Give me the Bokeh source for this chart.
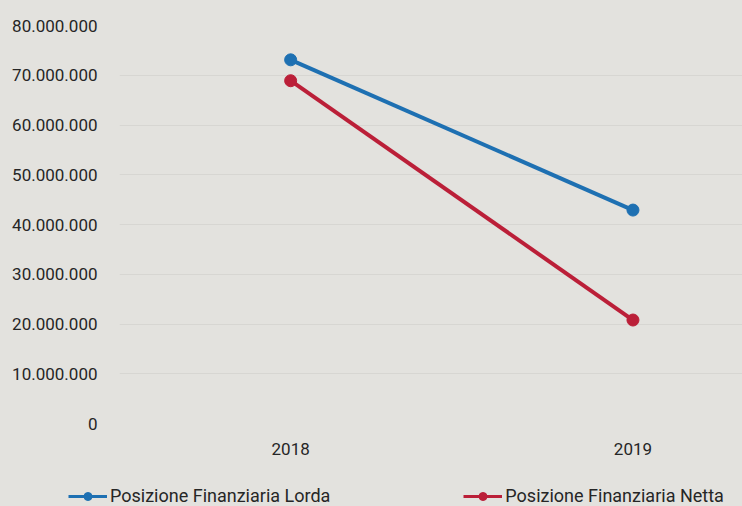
from bokeh.plotting import figure
from bokeh.models import (ColumnDataSource, FixedTicker, Legend, LegendItem,
                          CustomJSTickFormatter, Range1d)
from bokeh.embed import file_html
from bokeh.resources import INLINE

# Data
years = ["2018", "2019"]
lorda = [73_100_000, 42_900_000]
netta = [68_900_000, 20_800_000]
series_names = ["Posizione Finanziaria Lorda", "Posizione Finanziaria Netta"]
y_ticks = [0, 10_000_000, 20_000_000, 30_000_000, 40_000_000,
           50_000_000, 60_000_000, 70_000_000, 80_000_000]

BG = "#e3e2de"
BLUE = "#1e70b2"
RED = "#bb1f38"
FONT = "Roboto"
TEXT = "#262626"

xs = list(range(len(years)))
src_l = ColumnDataSource(dict(x=xs, y=lorda))
src_n = ColumnDataSource(dict(x=xs, y=netta))

p = figure(width=742, height=466, output_backend="svg", toolbar_location=None,
           x_range=Range1d(-0.5, 1.32), y_range=Range1d(0, 80_000_000),
           min_border_left=119, min_border_right=0, min_border_top=25,
           min_border_bottom=43)
p.background_fill_color = BG
p.border_fill_color = BG
p.outline_line_color = None

# Axes
p.xaxis.ticker = FixedTicker(ticks=xs)
p.xaxis.major_label_overrides = {i: y for i, y in enumerate(years)}
p.yaxis.ticker = FixedTicker(ticks=y_ticks)
p.yaxis.formatter = CustomJSTickFormatter(code="""
    return Math.round(tick).toString().replace(/\\B(?=(\\d{3})+(?!\\d))/g, '.');
""")
for ax in (p.xaxis, p.yaxis):
    ax.axis_line_color = None
    ax.major_tick_line_color = None
    ax.minor_tick_line_color = None
    ax.major_label_text_font = FONT
    ax.major_label_text_font_size = "17px"
    ax.major_label_text_color = TEXT
p.yaxis.major_label_standoff = 16
p.xaxis.major_label_standoff = 13

p.xgrid.grid_line_color = None
p.ygrid.grid_line_color = "#d7d6d2"
p.ygrid.grid_line_width = 1

# Series
p.line("x", "y", source=src_l, line_color=BLUE, line_width=4)
p.scatter("x", "y", source=src_l, size=12, fill_color=BLUE, line_color=BLUE)
p.line("x", "y", source=src_n, line_color=RED, line_width=4)
p.scatter("x", "y", source=src_n, size=12, fill_color=RED, line_color=RED)

# Legend strip below the chart (its own root so its frame spans the full width)
leg = figure(width=742, height=40, output_backend="svg", toolbar_location=None,
             x_range=Range1d(0, 1), y_range=Range1d(0, 1),
             min_border=0, min_border_left=0, min_border_right=0,
             min_border_top=0, min_border_bottom=0)
leg.axis.visible = False
leg.grid.visible = False
leg.background_fill_color = BG
leg.border_fill_color = BG
leg.outline_line_color = None

items = []
for name, color in zip(series_names, [BLUE, RED]):
    # off-screen points: these renderers only feed the legend swatches
    hidden = ColumnDataSource(dict(x=[-5, -4], y=[-5, -5]))
    r1 = leg.line("x", "y", source=hidden, line_color=color, line_width=3)
    r2 = leg.scatter("x", "y", source=hidden, size=10, fill_color=color,
                     line_color=color)
    items.append(LegendItem(label=name, renderers=[r1, r2]))

legend = Legend(items=items, orientation="horizontal", location=(68, 0),
                spacing=133, glyph_width=39, label_standoff=3, padding=0,
                margin=0, background_fill_alpha=0, border_line_alpha=0,
                label_text_font=FONT, label_text_font_size="18px",
                label_text_color=TEXT)
leg.add_layout(legend, "center")

html = file_html([p, leg], INLINE)
# page background matches the chart so no seams show between the two roots
html = html.replace("</head>",
                    "<style>html,body{margin:0;background:%s;}</style></head>" % BG, 1)
open("out.html", "w").write(html)
